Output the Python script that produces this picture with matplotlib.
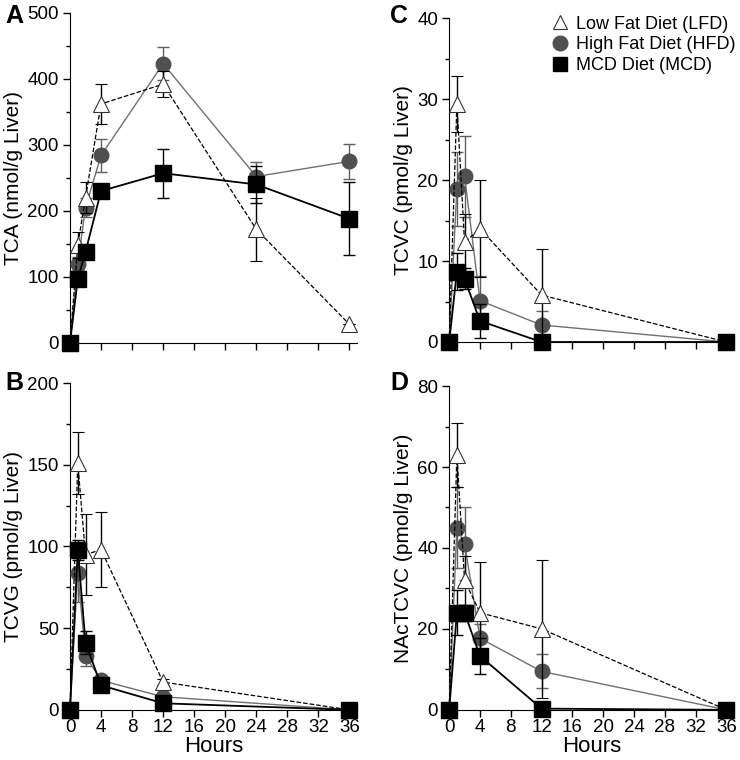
import matplotlib
matplotlib.use("Agg")
import matplotlib.pyplot as plt
from matplotlib.lines import Line2D
from matplotlib.ticker import MultipleLocator

plt.rcParams['font.family'] = ['Liberation Sans', 'DejaVu Sans']

# time points (hours)
hours_a = [0, 1, 2, 4, 12, 24, 36]
hours = [0, 1, 2, 4, 12, 36]

# A: TCA (nmol/g liver)
tca_lfd = [0, 148, 220, 362, 392, 172, 28]
tca_lfd_err = [0, 20, 24, 30, 20, 48, 0]
tca_hfd = [0, 120, 205, 284, 423, 252, 275]
tca_hfd_err = [0, 10, 15, 25, 25, 22, 27]
tca_mcd = [0, 96, 138, 230, 257, 240, 188]
tca_mcd_err = [0, 8, 10, 10, 37, 28, 55]

# B: TCVG (pmol/g liver)
tcvg_lfd = [0, 151, 95, 98, 17, 0]
tcvg_lfd_err = [0, 19, 25, 23, 2, 0]
tcvg_hfd = [0, 84, 33, 18, 8, 0]
tcvg_hfd_err = [0, 18, 6, 2, 1, 0]
tcvg_mcd = [0, 98, 41, 15, 4, 0]
tcvg_mcd_err = [0, 6, 7, 2, 1, 0]

# C: TCVC (pmol/g liver)
tcvc_lfd = [0, 29.4, 12.3, 14.0, 5.8, 0]
tcvc_lfd_err = [0, 3.5, 3.5, 6.0, 5.7, 0]
tcvc_hfd = [0, 18.9, 20.5, 5.1, 2.1, 0]
tcvc_hfd_err = [0, 4.6, 5.0, 3.0, 1.7, 0]
tcvc_mcd = [0, 8.7, 7.8, 2.6, 0, 0]
tcvc_mcd_err = [0, 2.3, 1.3, 2.1, 0, 0]

# D: NAcTCVC (pmol/g liver)
nac_lfd = [0, 63, 32, 24, 20, 0]
nac_lfd_err = [0, 8, 6, 12.5, 17, 0]
nac_hfd = [0, 45, 41, 17.7, 9.5, 0]
nac_hfd_err = [0, 10, 9, 3.5, 4.2, 0]
nac_mcd = [0, 24, 24, 13.3, 0.3, 0]
nac_mcd_err = [0, 5.5, 2, 4.5, 0, 0]

labels = ['Low Fat Diet (LFD)', 'High Fat Diet (HFD)', 'MCD Diet (MCD)']
gray = '#505050'


def draw(ax, x, lfd, lfd_e, hfd, hfd_e, mcd, mcd_e):
    # HFD grey circles
    ax.errorbar(x, hfd, yerr=hfd_e, color='#707070', lw=1.0, marker='o', ms=10.5,
                mfc=gray, mec=gray, ecolor='#606060', elinewidth=1.0, capsize=4.5,
                clip_on=False, zorder=3)
    # LFD open triangles, dashed
    ax.errorbar(x, lfd, yerr=lfd_e, color='black', lw=0.9, ls='--', marker='^', ms=11.5,
                mfc='white', mec='#333333', mew=0.8, ecolor='black', elinewidth=1.0,
                capsize=4.5, clip_on=False, zorder=4)
    # MCD black squares
    ax.errorbar(x, mcd, yerr=mcd_e, color='black', lw=1.3, marker='s', ms=11,
                mfc='black', mec='black', ecolor='black', elinewidth=1.0, capsize=4.5,
                clip_on=False, zorder=5)


def style(ax, ymax, ystep, ylabel, xlabels):
    ax.set_xlim(0, 37)
    ax.set_ylim(0, ymax)
    ax.xaxis.set_major_locator(MultipleLocator(4))
    ax.yaxis.set_major_locator(MultipleLocator(ystep))
    ax.yaxis.set_minor_locator(MultipleLocator(ystep / 2))
    ax.spines['top'].set_visible(False)
    ax.spines['right'].set_visible(False)
    ax.tick_params(direction='out', length=5, width=1, labelsize=13.5, pad=3)
    ax.tick_params(axis='x', pad=1.5)
    ax.tick_params(which='minor', direction='out', length=3, width=1)
    ax.set_ylabel(ylabel, fontsize=15, labelpad=3)
    if xlabels:
        ax.set_xlabel('Hours', fontsize=16, labelpad=0)
    else:
        ax.set_xticklabels([])


fig = plt.figure(figsize=(7.4, 7.6), dpi=100)
axA = fig.add_axes([0.0946, 0.549, 0.388, 0.434])
axB = fig.add_axes([0.0946, 0.066, 0.388, 0.430])
axC = fig.add_axes([0.607, 0.550, 0.385, 0.426])
axD = fig.add_axes([0.607, 0.066, 0.385, 0.426])

draw(axA, hours_a, tca_lfd, tca_lfd_err, tca_hfd, tca_hfd_err, tca_mcd, tca_mcd_err)
draw(axB, hours, tcvg_lfd, tcvg_lfd_err, tcvg_hfd, tcvg_hfd_err, tcvg_mcd, tcvg_mcd_err)
draw(axC, hours, tcvc_lfd, tcvc_lfd_err, tcvc_hfd, tcvc_hfd_err, tcvc_mcd, tcvc_mcd_err)
draw(axD, hours, nac_lfd, nac_lfd_err, nac_hfd, nac_hfd_err, nac_mcd, nac_mcd_err)

style(axA, 500, 100, 'TCA (nmol/g Liver)', False)
style(axB, 200, 50, 'TCVG (pmol/g Liver)', True)
style(axC, 40, 10, 'TCVC (pmol/g Liver)', False)
style(axD, 80, 20, 'NAcTCVC (pmol/g Liver)', True)

# panel letters
for letter, (fx, fy) in zip('ABCD', [(0.007, 0.979), (0.007, 0.496),
                                     (0.527, 0.979), (0.527, 0.496)]):
    fig.text(fx, fy, letter, fontsize=18, fontweight='bold', va='center', ha='left')

handles = [
    Line2D([], [], ls='none', marker='^', ms=10.5, mfc='white', mec='#333333', mew=0.8),
    Line2D([], [], ls='none', marker='o', ms=10.5, mfc=gray, mec=gray),
    Line2D([], [], ls='none', marker='s', ms=10, mfc='black', mec='black'),
]
axC.legend(handles, labels, loc='upper right', bbox_to_anchor=(1.03, 1.03),
           frameon=False, fontsize=13, handlelength=1.0, handletextpad=0.4,
           labelspacing=0.2, borderaxespad=0)

fig.savefig('out.png', dpi=100)
